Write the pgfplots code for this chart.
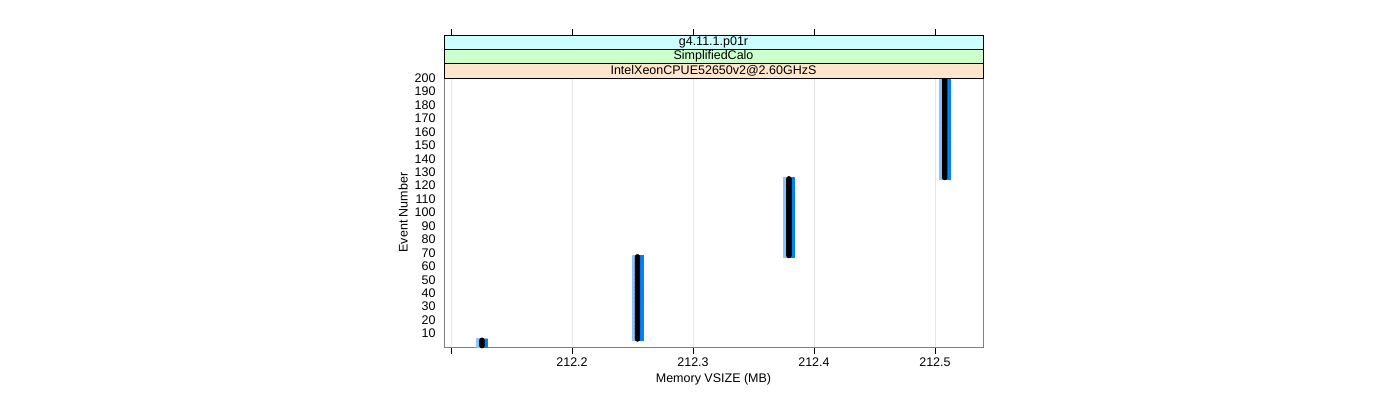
\documentclass[border=0pt]{standalone}
\usepackage{fontspec}
\setmainfont{Liberation Sans}
\usepackage{pgfplots}
\usepackage{pgfplotstable}
\pgfplotsset{compat=1.18}
\definecolor{ptblue}{RGB}{0,128,255}
\definecolor{ptlight}{RGB}{140,195,255}
\definecolor{stripcyan}{RGB}{204,255,255}
\definecolor{stripgreen}{RGB}{204,255,204}
\definecolor{striporange}{RGB}{255,229,204}
\definecolor{gridgray}{RGB}{230,230,230}
\definecolor{framegray}{RGB}{128,128,128}

% event number vs memory vsize
\pgfplotstableread[row sep=\\]{
x y\\
212.1256 1\\ 212.1256 2\\ 212.1256 3\\ 212.1256 4\\ 212.1256 5\\
212.2541 6\\ 212.2541 7\\ 212.2541 8\\ 212.2541 9\\ 212.2541 10\\
212.2541 11\\ 212.2541 12\\ 212.2541 13\\ 212.2541 14\\ 212.2541 15\\
212.2541 16\\ 212.2541 17\\ 212.2541 18\\ 212.2541 19\\ 212.2541 20\\
212.2541 21\\ 212.2541 22\\ 212.2541 23\\ 212.2541 24\\ 212.2541 25\\
212.2541 26\\ 212.2541 27\\ 212.2541 28\\ 212.2541 29\\ 212.2541 30\\
212.2541 31\\ 212.2541 32\\ 212.2541 33\\ 212.2541 34\\ 212.2541 35\\
212.2541 36\\ 212.2541 37\\ 212.2541 38\\ 212.2541 39\\ 212.2541 40\\
212.2541 41\\ 212.2541 42\\ 212.2541 43\\ 212.2541 44\\ 212.2541 45\\
212.2541 46\\ 212.2541 47\\ 212.2541 48\\ 212.2541 49\\ 212.2541 50\\
212.2541 51\\ 212.2541 52\\ 212.2541 53\\ 212.2541 54\\ 212.2541 55\\
212.2541 56\\ 212.2541 57\\ 212.2541 58\\ 212.2541 59\\ 212.2541 60\\
212.2541 61\\ 212.2541 62\\ 212.2541 63\\ 212.2541 64\\ 212.2541 65\\
212.2541 66\\ 212.2541 67\\
212.3793 68\\ 212.3793 69\\ 212.3793 70\\
212.3793 71\\ 212.3793 72\\ 212.3793 73\\ 212.3793 74\\ 212.3793 75\\
212.3793 76\\ 212.3793 77\\ 212.3793 78\\ 212.3793 79\\ 212.3793 80\\
212.3793 81\\ 212.3793 82\\ 212.3793 83\\ 212.3793 84\\ 212.3793 85\\
212.3793 86\\ 212.3793 87\\ 212.3793 88\\ 212.3793 89\\ 212.3793 90\\
212.3793 91\\ 212.3793 92\\ 212.3793 93\\ 212.3793 94\\ 212.3793 95\\
212.3793 96\\ 212.3793 97\\ 212.3793 98\\ 212.3793 99\\ 212.3793 100\\
212.3793 101\\ 212.3793 102\\ 212.3793 103\\ 212.3793 104\\ 212.3793 105\\
212.3793 106\\ 212.3793 107\\ 212.3793 108\\ 212.3793 109\\ 212.3793 110\\
212.3793 111\\ 212.3793 112\\ 212.3793 113\\ 212.3793 114\\ 212.3793 115\\
212.3793 116\\ 212.3793 117\\ 212.3793 118\\ 212.3793 119\\ 212.3793 120\\
212.3793 121\\ 212.3793 122\\ 212.3793 123\\ 212.3793 124\\ 212.3793 125\\
212.508 126\\ 212.508 127\\ 212.508 128\\ 212.508 129\\ 212.508 130\\
212.508 131\\ 212.508 132\\ 212.508 133\\ 212.508 134\\ 212.508 135\\
212.508 136\\ 212.508 137\\ 212.508 138\\ 212.508 139\\ 212.508 140\\
212.508 141\\ 212.508 142\\ 212.508 143\\ 212.508 144\\ 212.508 145\\
212.508 146\\ 212.508 147\\ 212.508 148\\ 212.508 149\\ 212.508 150\\
212.508 151\\ 212.508 152\\ 212.508 153\\ 212.508 154\\ 212.508 155\\
212.508 156\\ 212.508 157\\ 212.508 158\\ 212.508 159\\ 212.508 160\\
212.508 161\\ 212.508 162\\ 212.508 163\\ 212.508 164\\ 212.508 165\\
212.508 166\\ 212.508 167\\ 212.508 168\\ 212.508 169\\ 212.508 170\\
212.508 171\\ 212.508 172\\ 212.508 173\\ 212.508 174\\ 212.508 175\\
212.508 176\\ 212.508 177\\ 212.508 178\\ 212.508 179\\ 212.508 180\\
212.508 181\\ 212.508 182\\ 212.508 183\\ 212.508 184\\ 212.508 185\\
212.508 186\\ 212.508 187\\ 212.508 188\\ 212.508 189\\ 212.508 190\\
212.508 191\\ 212.508 192\\ 212.508 193\\ 212.508 194\\ 212.508 195\\
212.508 196\\ 212.508 197\\ 212.508 198\\ 212.508 199\\ 212.508 200\\
}\events

\begin{document}
\begin{tikzpicture}[font=\fontsize{12.5}{14}\selectfont]
\useasboundingbox (0pt,0pt) rectangle (1400pt,400pt);
\begin{axis}[
    name=ax,
    at={(444pt,53pt)}, anchor=south west,
    scale only axis, width=539pt, height=269pt,
    xmin=212.0942, xmax=212.5397,
    ymin=0, ymax=200,
    axis line style={framegray},
    xtick={212.1,212.2,212.3,212.4,212.5},
    xticklabels={,212.2,212.3,212.4,212.5},
    ytick={10,20,...,200},
    xtick pos=bottom, ytick pos=left,
    tick align=outside,
    major tick length=7pt,
    xtick style={black},
    ytick style={draw=none},
    xmajorgrids, major grid style={gridgray},
    /pgf/number format/assume math mode=true,
    yticklabel style={font=\fontsize{12.5}{14}\selectfont, xshift=2pt},
    xticklabel style={font=\fontsize{12.5}{14}\selectfont},
    xlabel={Memory VSIZE (MB)},
    ylabel={Event Number},
    xlabel style={font=\fontsize{12.5}{14}\selectfont},
    ylabel style={font=\fontsize{12.5}{14}\selectfont},
]
\addplot[only marks, mark=square*, mark size=5.5pt, ptlight, mark options={yscale=0.3}] table {\events};
\addplot[only marks, mark=square*, mark size=3.5pt, ptblue, mark options={yscale=0.45, xshift=2pt}] table {\events};
\addplot[only marks, mark=*, mark size=2.5pt, black] table {\events};
\end{axis}
% strips
\draw[fill=striporange, line width=0.8pt] (ax.north west) rectangle ([yshift=14.3pt]ax.north east);
\draw[fill=stripgreen, line width=0.8pt] ([yshift=14.3pt]ax.north west) rectangle ([yshift=28.6pt]ax.north east);
\draw[fill=stripcyan, line width=0.8pt] ([yshift=28.6pt]ax.north west) rectangle ([yshift=43pt]ax.north east);
\node at ([yshift=7.15pt]ax.north) {IntelXeonCPUE52650v2@2.60GHzS};
\node at ([yshift=21.45pt]ax.north) {SimplifiedCalo};
\node at ([yshift=35.8pt]ax.north) {g4.11.1.p01r};
\foreach \tx in {451,572,693,814,935} \draw (\tx pt,365pt) -- (\tx pt,371pt);
\end{tikzpicture}
\end{document}
